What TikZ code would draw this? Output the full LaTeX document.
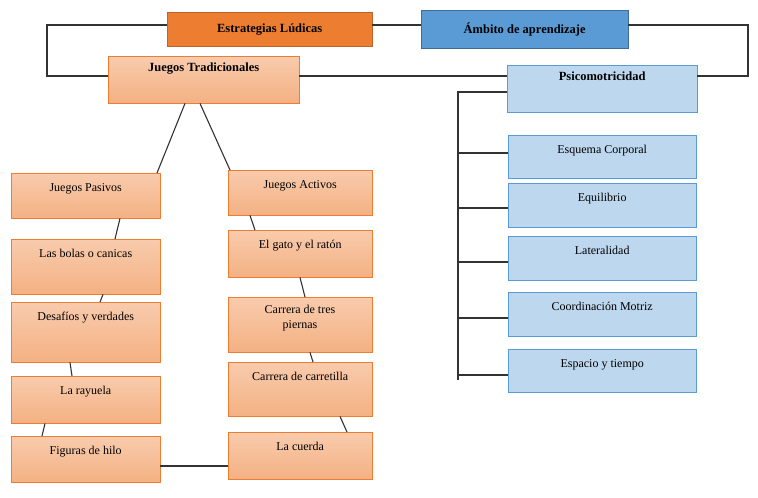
\documentclass[tikz,border=0pt]{standalone}
\usepackage{fontspec}
\setmainfont{Liberation Serif}
\definecolor{sal1}{RGB}{248,203,173}
\definecolor{sal2}{RGB}{244,177,131}
\definecolor{salb}{RGB}{237,125,49}
\definecolor{lb}{RGB}{189,215,238}
\definecolor{lbb}{RGB}{91,155,213}
\begin{document}
\begin{tikzpicture}[x=1pt,y=-1pt,
  bx/.style={draw=#1,anchor=north west,inner sep=0pt,font=\fontsize{12}{14}\selectfont,align=center},
  pale/.style={bx=salb,top color=sal1,bottom color=sal2},
  blu/.style={bx=lbb,fill=lb},
  ln/.style={draw=black!80,line width=1.1pt}]
\useasboundingbox (0,0) rectangle (758,498);
\node[bx=salb!80!black,fill=salb,minimum width=205,minimum height=34,font=\bfseries\fontsize{12.5}{14}\selectfont] (est) at (167,12) {Estrategias Lúdicas};
\node[bx=lbb!70!black,fill=lbb,minimum width=207,minimum height=38,font=\bfseries\fontsize{12.5}{14}\selectfont] (amb) at (421,10) {Ámbito de aprendizaje};
\node[pale,minimum width=191,minimum height=47,text height=9,text depth=26,font=\bfseries\fontsize{12.5}{14}\selectfont] (jt) at (108,56) {Juegos Tradicionales};
\node[blu,minimum width=190,minimum height=47,text height=9,text depth=26,font=\bfseries\fontsize{12.5}{14}\selectfont] (psi) at (507,65) {Psicomotricidad};
% right column
\foreach \n/\t/\a/\b in {esq/Esquema Corporal/135/178, equ/Equilibrio/183/227, lat/Lateralidad/236/280, coo/Coordinación Motriz/292/336, esp/Espacio y tiempo/349/392}
  {\node[blu,minimum width=188,minimum height=\b-\a,text height=9,text depth=\b-\a-27] (\n) at (508,\a) {\t};}
% left column
\foreach \n/\t/\a/\b in {pas/Juegos Pasivos/173/218, bol/Las bolas o canicas/239/294, des/Desafíos y verdades/302/362, ray/La rayuela/376/423, fig/Figuras de hilo/436/482}
  {\node[pale,minimum width=149,minimum height=\b-\a,text height=9,text depth=\b-\a-27] (\n) at (11,\a) {\t};}
% middle column
\node[pale,minimum width=144,minimum height=45,text height=9,text depth=18] (act) at (228,170) {Juegos Activos};
\node[pale,minimum width=144,minimum height=47,text height=9,text depth=20] (gat) at (228,230) {El gato y el ratón};
\node[pale,minimum width=144,minimum height=55] (tre) at (228,297) {};
\node[anchor=north,align=center,font=\fontsize{12}{15}\selectfont,inner sep=0pt] (tret) at (300,305) {Carrera de tres\\piernas};
\node[pale,minimum width=144,minimum height=54,text height=9,text depth=27] (car) at (228,362) {Carrera de carretilla};
\node[pale,minimum width=144,minimum height=47,text height=9,text depth=20] (cue) at (228,432) {La cuerda};
% connectors
\draw[ln] (est.west|-0,25) -- (47,25) -- (47,76) -- (jt.west|-0,76);
\draw[ln] (est.east|-0,25) -- (amb.west|-0,25);
\draw[ln] (amb.east|-0,25) -- (748,25) -- (748,76) -- (psi.east|-0,76);
\draw[ln] (jt.east|-0,76) -- (psi.west|-0,76);
\draw[ln] (psi.west|-0,92) -- (458,92) -- (458,380);
\foreach \n/\y in {esq/153,equ/208,lat/262,coo/318,esp/375} \draw[ln] (458,\y) -- (\n.west|-0,\y);
\draw[ln] (jt.south-|185,0) -- (pas.north-|157,0);
\draw[ln] (jt.south-|200,0) -- (act.north-|230,0);
\draw[ln] (pas.south-|120,0) -- (bol.north-|115,0);
\draw[ln] (bol.south-|103,0) -- (des.north-|100,0);
\draw[ln] (des.south-|70,0) -- (ray.north-|72,0);
\draw[ln] (ray.south-|45,0) -- (fig.north-|42,0);
\draw[ln] (act.south-|250,0) -- (gat.north-|255,0);
\draw[ln] (gat.south-|300,0) -- (tre.north-|305,0);
\draw[ln] (tre.south-|310,0) -- (car.north-|313,0);
\draw[ln] (car.south-|340,0) -- (cue.north-|347,0);
\draw[ln] (fig.east|-0,466) -- (cue.west|-0,466);
\end{tikzpicture}
\end{document}
